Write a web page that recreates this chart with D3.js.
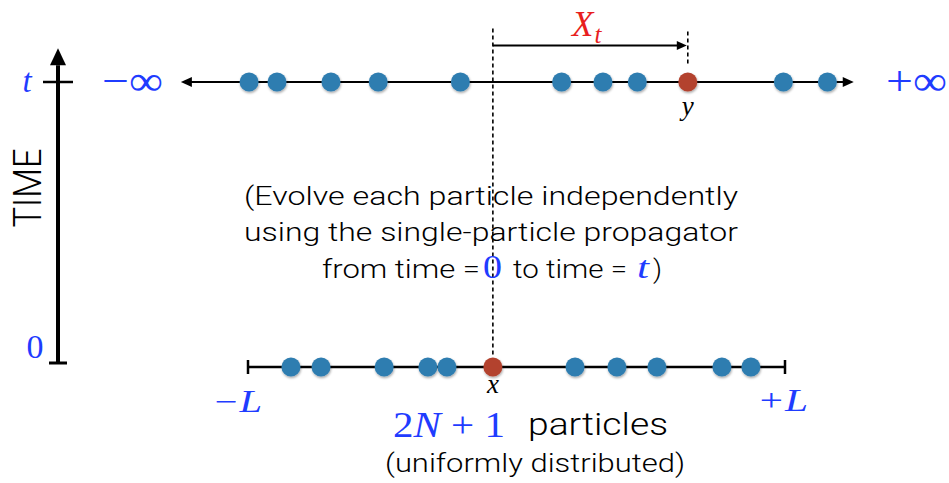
<!DOCTYPE html>
<html>
<head>
<meta charset="utf-8">
<script src="https://cdn.jsdelivr.net/npm/d3@7"></script>
<style>
  body { margin: 0; background: white; }
  svg { display: block; }
</style>
</head>
<body>
<svg id="chart" width="949" height="483"></svg>
<script>
// particle positions, domain is [-L, +L] with L = 10
const L = 10;
const topParticles = [-9.96, -8.92, -6.91, -5.15, -2.09, 1.68, 3.22, 4.50, 9.94, 11.58];
const topTagged = 6.38; // y
const bottomParticles = [-8.40, -7.28, -4.93, -3.30, -2.59, 2.18, 3.74, 5.23, 7.65, 8.73];
const bottomTagged = -0.88; // x
const textLines = [
  "(Evolve each particle independently",
  "using the single-particle propagator"
];

const blue = "#2f7db0";
const red = "#b3432f";
const mathBlue = "#1f3cff";

const svg = d3.select("#chart");
const x = d3.scaleLinear().domain([-L, L]).range([248, 785]);
const time = d3.scaleLinear().domain([0, 1]).range([363, 82]);

const defs = svg.append("defs");
defs.append("filter").attr("id", "shadow")
  .attr("x", "-50%").attr("y", "-50%").attr("width", "200%").attr("height", "200%")
  .append("feDropShadow")
  .attr("dx", 0.6).attr("dy", 1.5).attr("stdDeviation", 1)
  .attr("flood-color", "#000").attr("flood-opacity", 0.35);

// TIME axis
const ax = 58;
svg.append("line")
  .attr("x1", ax).attr("x2", ax)
  .attr("y1", time(0)).attr("y2", time(1.06))
  .attr("stroke", "black").attr("stroke-width", 4);
svg.append("path")
  .attr("d", `M${ax},${time(1.12)} L${ax + 8},${time(1.06)} L${ax - 8},${time(1.06)} Z`)
  .attr("fill", "black");
svg.append("line")
  .attr("x1", ax - 9).attr("x2", ax + 9)
  .attr("y1", time(0)).attr("y2", time(0))
  .attr("stroke", "black").attr("stroke-width", 3);
svg.append("line")
  .attr("x1", ax - 15).attr("x2", ax + 15)
  .attr("y1", time(1)).attr("y2", time(1))
  .attr("stroke", "black").attr("stroke-width", 2.5);

svg.append("text")
  .attr("transform", `translate(41,188) rotate(-90)`)
  .attr("text-anchor", "middle")
  .attr("font-family", "Roboto").attr("font-weight", 300)
  .attr("font-size", 38)
  .attr("textLength", 79).attr("lengthAdjust", "spacingAndGlyphs")
  .text("TIME");

svg.append("text")
  .attr("x", 27).attr("y", time(1) + 10)
  .attr("text-anchor", "middle")
  .attr("font-family", "Liberation Serif").attr("font-style", "italic")
  .attr("font-size", 33).attr("fill", mathBlue)
  .text("t");
svg.append("text")
  .attr("x", 35).attr("y", time(0) - 5)
  .attr("text-anchor", "middle")
  .attr("font-family", "Liberation Serif")
  .attr("font-size", 34).attr("fill", mathBlue)
  .text("0");

// top line (time t), infinite
const yTop = time(1);
svg.append("line")
  .attr("x1", x(-12.2)).attr("x2", x(12.3))
  .attr("y1", yTop).attr("y2", yTop)
  .attr("stroke", "black").attr("stroke-width", 2);
svg.append("path")
  .attr("d", `M${x(-12.5)},${yTop} l11,-5 l0,10 Z`)
  .attr("fill", "black");
svg.append("path")
  .attr("d", `M${x(12.56)},${yTop} l-11,-5 l0,10 Z`)
  .attr("fill", "black");

svg.append("text")
  .attr("x", 102).attr("y", yTop + 13)
  .attr("font-family", "Liberation Serif")
  .attr("font-size", 42).attr("fill", mathBlue)
  .attr("textLength", 61).attr("lengthAdjust", "spacingAndGlyphs")
  .text("−∞");
svg.append("text")
  .attr("x", 886).attr("y", yTop + 13)
  .attr("font-family", "Liberation Serif")
  .attr("font-size", 42).attr("fill", mathBlue)
  .attr("textLength", 61).attr("lengthAdjust", "spacingAndGlyphs")
  .text("+∞");

// bottom line (time 0), box [-L, L]
const yBot = time(0) + 4;
svg.append("line")
  .attr("x1", x(-L)).attr("x2", x(L))
  .attr("y1", yBot).attr("y2", yBot)
  .attr("stroke", "black").attr("stroke-width", 2.5);
[-L, L].forEach((d) => {
  svg.append("line")
    .attr("x1", x(d)).attr("x2", x(d))
    .attr("y1", yBot - 7).attr("y2", yBot + 7)
    .attr("stroke", "black").attr("stroke-width", 2.5);
});

svg.append("text")
  .attr("x", 212).attr("y", 412)
  .attr("font-family", "Liberation Serif").attr("font-style", "italic")
  .attr("font-size", 31).attr("fill", mathBlue)
  .attr("textLength", 50).attr("lengthAdjust", "spacingAndGlyphs")
  .text("−L");
svg.append("text")
  .attr("x", 757).attr("y", 411)
  .attr("font-family", "Liberation Serif").attr("font-style", "italic")
  .attr("font-size", 31).attr("fill", mathBlue)
  .attr("textLength", 51).attr("lengthAdjust", "spacingAndGlyphs")
  .text("+L");

// dashed guides and X_t arrow
const dash = "4,3";
svg.append("line")
  .attr("x1", x(bottomTagged)).attr("x2", x(bottomTagged))
  .attr("y1", time(1.19)).attr("y2", yBot - 10)
  .attr("stroke", "black").attr("stroke-width", 1.6)
  .attr("stroke-dasharray", dash);
svg.append("line")
  .attr("x1", x(topTagged)).attr("x2", x(topTagged))
  .attr("y1", time(1.18)).attr("y2", time(1.065))
  .attr("stroke", "black").attr("stroke-width", 1.6)
  .attr("stroke-dasharray", dash);

const yArrow = time(1.13);
svg.append("line")
  .attr("x1", x(bottomTagged)).attr("x2", x(topTagged) - 8)
  .attr("y1", yArrow).attr("y2", yArrow)
  .attr("stroke", "black").attr("stroke-width", 2);
svg.append("path")
  .attr("d", `M${x(topTagged) - 1},${yArrow} l-10,-4.5 l0,9 Z`)
  .attr("fill", "black");

const xt = svg.append("text")
  .attr("x", 572).attr("y", 36)
  .attr("font-family", "Liberation Serif").attr("font-style", "italic")
  .attr("fill", "#e81e1e");
xt.append("tspan").attr("font-size", 35).text("X");
xt.append("tspan").attr("font-size", 25).attr("dy", 7).attr("dx", 1).text("t");

// particles
svg.append("g").selectAll("circle")
  .data(topParticles)
  .join("circle")
  .attr("cx", (d) => x(d)).attr("cy", yTop).attr("r", 9.5)
  .attr("fill", blue).attr("filter", "url(#shadow)");
svg.append("circle")
  .attr("cx", x(topTagged)).attr("cy", yTop).attr("r", 9.5)
  .attr("fill", red).attr("filter", "url(#shadow)");

svg.append("g").selectAll("circle")
  .data(bottomParticles)
  .join("circle")
  .attr("cx", (d) => x(d)).attr("cy", yBot).attr("r", 9.5)
  .attr("fill", blue).attr("filter", "url(#shadow)");
svg.append("circle")
  .attr("cx", x(bottomTagged)).attr("cy", yBot).attr("r", 9.5)
  .attr("fill", red).attr("filter", "url(#shadow)");

svg.append("text")
  .attr("x", x(topTagged)).attr("y", 115)
  .attr("text-anchor", "middle")
  .attr("font-family", "Liberation Serif").attr("font-style", "italic")
  .attr("font-size", 27).text("y");
svg.append("text")
  .attr("x", x(bottomTagged)).attr("y", 393)
  .attr("text-anchor", "middle")
  .attr("font-family", "Liberation Serif").attr("font-style", "italic")
  .attr("font-size", 27).text("x");

// explanation text
const sans = { family: "Roboto", weight: 300, size: 26 };
textLines.forEach((line, i) => {
  svg.append("text")
    .attr("x", 491).attr("y", 205 + i * 36)
    .attr("text-anchor", "middle")
    .attr("font-family", sans.family).attr("font-weight", sans.weight)
    .attr("font-size", sans.size)
    .attr("textLength", 494).attr("lengthAdjust", "spacingAndGlyphs")
    .text(line);
});

const line3 = [
  { t: "from time =", x: 322, w: 158, serif: false },
  { t: "0", x: 483, w: 19, serif: true, blue: true, size: 33 },
  { t: "to time =", x: 513, w: 114, serif: false },
  { t: "t", x: 637, w: 12, serif: true, blue: true, italic: true, size: 31 },
  { t: ")", x: 653, w: 9, serif: false }
];
line3.forEach((p) => {
  svg.append("text")
    .attr("x", p.x).attr("y", 278)
    .attr("font-family", p.serif ? "Liberation Serif" : sans.family)
    .attr("font-weight", p.serif ? 400 : sans.weight)
    .attr("font-style", p.italic ? "italic" : "normal")
    .attr("font-size", p.size || sans.size)
    .attr("fill", p.blue ? mathBlue : "black")
    .attr("textLength", p.w).attr("lengthAdjust", "spacingAndGlyphs")
    .text(p.t);
});

// 2N + 1 with italic N
const count = svg.append("text")
  .attr("x", 393).attr("y", 437)
  .attr("font-family", "Liberation Serif")
  .attr("font-size", 36).attr("fill", mathBlue)
  .attr("textLength", 112).attr("lengthAdjust", "spacingAndGlyphs");
count.append("tspan").text("2");
count.append("tspan").attr("font-style", "italic").text("N");
count.append("tspan").text(" + 1");

svg.append("text")
  .attr("x", 528).attr("y", 435)
  .attr("font-family", sans.family).attr("font-weight", sans.weight)
  .attr("font-size", 32)
  .attr("textLength", 140).attr("lengthAdjust", "spacingAndGlyphs")
  .text("particles");
svg.append("text")
  .attr("x", 385).attr("y", 472)
  .attr("font-family", sans.family).attr("font-weight", sans.weight)
  .attr("font-size", 26)
  .attr("textLength", 300).attr("lengthAdjust", "spacingAndGlyphs")
  .text("(uniformly distributed)");
</script>
</body>
</html>
